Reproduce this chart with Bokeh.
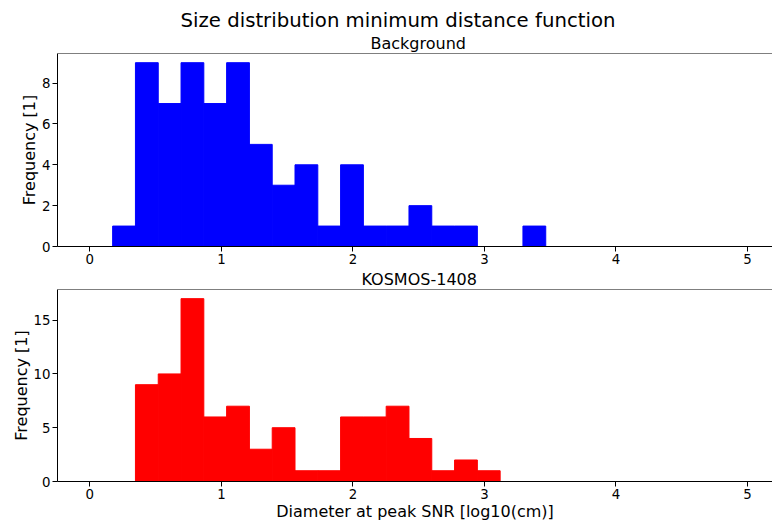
import numpy as np
from bokeh.plotting import figure
from bokeh.models import FixedTicker, Range1d, Span, Title, ColumnDataSource
from bokeh.layouts import column
from bokeh.embed import file_html
from bokeh.resources import INLINE

# ---- data ----
bin_start = 0.0
bin_width = 0.1733
background_counts = [0, 1, 9, 7, 9, 7, 9, 5, 3, 4, 1, 4, 1, 1, 2, 1, 1, 0, 0, 1]
kosmos_counts = [0, 0, 9, 10, 17, 6, 7, 3, 5, 1, 1, 6, 6, 7, 4, 1, 2, 1]
x_ticks = [0, 1, 2, 3, 4, 5]
bg_y_ticks = [0, 2, 4, 6, 8]
ko_y_ticks = [0, 5, 10, 15]

suptitle = "Size distribution minimum distance function"
bg_title = "Background"
ko_title = "KOSMOS-1408"
x_label = "Diameter at peak SNR [log10(cm)]"
y_label = "Frequency [1]"

FONT = "DejaVu Sans"
TICK_FS = "13.33px"
LABEL_FS = "16px"
X_RANGE = (-0.246, 5.19)


def hist_source(counts):
    n = len(counts)
    left = bin_start + bin_width * np.arange(n)
    right = left + bin_width
    return ColumnDataSource(dict(left=left, right=right, top=counts, bottom=np.zeros(n)))


def style_title(t, size, offset, standoff):
    t.text_font = FONT
    t.text_font_size = size
    t.text_font_style = "normal"
    t.text_color = "black"
    t.align = "left"
    t.offset = offset
    t.standoff = standoff


def style(p, yticks, ymax):
    p.xgrid.visible = False
    p.ygrid.visible = False
    p.outline_line_color = None
    for ax in (p.xaxis[0], p.yaxis[0]):
        ax.axis_line_color = "black"
        ax.axis_line_width = 1
        ax.major_tick_line_color = "black"
        ax.major_tick_out = 5
        ax.major_tick_in = 0
        ax.minor_tick_line_color = None
        ax.major_label_text_font = FONT
        ax.major_label_text_font_size = TICK_FS
        ax.major_label_text_color = "black"
        ax.axis_label_text_font = FONT
        ax.axis_label_text_font_size = LABEL_FS
        ax.axis_label_text_font_style = "normal"
        ax.axis_label_text_color = "black"
    p.xaxis.ticker = FixedTicker(ticks=x_ticks)
    p.yaxis.ticker = FixedTicker(ticks=yticks)
    p.xaxis.major_label_standoff = 2
    p.yaxis.major_label_standoff = 2
    p.yaxis.axis_label = y_label
    p.yaxis.axis_label_standoff = 0
    # top spine
    p.add_layout(Span(location=ymax, dimension="width", line_color="black", line_width=1))


bg_max = max(background_counts) * 1.05
ko_max = max(kosmos_counts) * 1.05

p1 = figure(width=772, height=267, title=suptitle, output_backend="svg", toolbar_location=None,
            x_range=Range1d(*X_RANGE), y_range=Range1d(0, bg_max),
            min_border_left=57, min_border_right=0, min_border_top=53, min_border_bottom=21)
p1.quad(left="left", right="right", top="top", bottom="bottom", source=hist_source(background_counts),
        fill_color="#0000ff", line_color="#0000ff", line_width=1)
style(p1, bg_y_ticks, bg_max)
style_title(p1.title, "19.7px", 123, 0)
t_bg = Title(text=bg_title)
style_title(t_bg, LABEL_FS, 313, 1)
p1.add_layout(t_bg, "above")

p2 = figure(width=772, height=256, title=ko_title, output_backend="svg", toolbar_location=None,
            x_range=Range1d(*X_RANGE), y_range=Range1d(0, ko_max),
            min_border_left=57, min_border_right=0, min_border_top=22, min_border_bottom=41)
p2.quad(left="left", right="right", top="top", bottom="bottom", source=hist_source(kosmos_counts),
        fill_color="#ff0000", line_color="#ff0000", line_width=1)
style(p2, ko_y_ticks, ko_max)
style_title(p2.title, LABEL_FS, 304, 1)
p2.xaxis.axis_label = x_label
p2.xaxis.axis_label_standoff = 0

layout = column(p1, p2)
open("out.html", "w").write(file_html(layout, INLINE))
